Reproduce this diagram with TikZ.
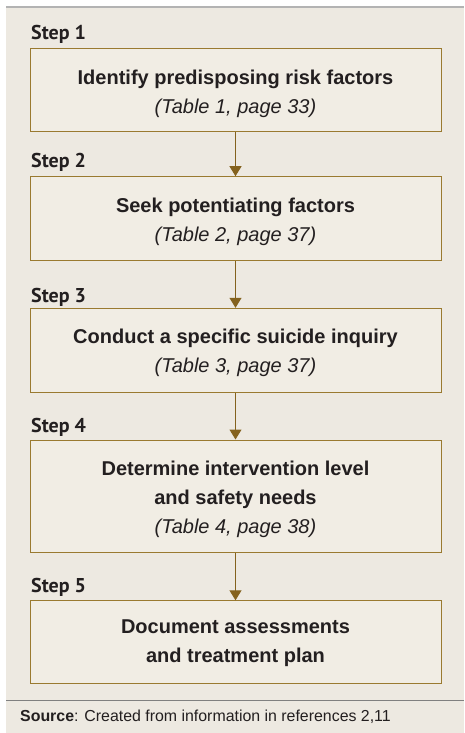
\documentclass[tikz,border=0pt]{standalone}
\usepackage{fontspec}
\setmainfont{Liberation Sans}
\newfontfamily\stepfont{PT Sans}
\usetikzlibrary{arrows.meta}
\definecolor{panelbg}{HTML}{EDE9E1}
\definecolor{boxbg}{HTML}{F1EDE4}
\definecolor{gold}{HTML}{9A7A30}
\definecolor{arrowc}{HTML}{84621E}
\definecolor{txt}{HTML}{231F20}
\definecolor{topline}{HTML}{B3B3B3}
\definecolor{botline}{HTML}{808080}
\tikzset{
  stepbox/.style={draw=gold, line width=1pt, fill=boxbg, minimum width=411pt, inner sep=0pt},
  boxtext/.style={align=center, inner sep=0pt, text=txt, font=\fontsize{20}{29}\selectfont, yshift=-3pt},
  steplabel/.style={anchor=west, inner sep=0pt, text=txt, font=\stepfont\bfseries\fontsize{20}{22}\selectfont},
  flow/.style={draw=arrowc, line width=1pt, -{Triangle[width=12pt,length=10pt]}}
}
\begin{document}
\begin{tikzpicture}[x=1pt,y=-1pt]
\useasboundingbox (0,0) rectangle (464,733);
\fill[white] (0,0) rectangle (464,733);
\fill[panelbg] (6,7) rectangle (464,733);
\draw[topline, line width=2pt] (6,7) -- (464,7);
\draw[botline, line width=1.2pt] (6,700.7) -- (464,700.7);

\node[steplabel] (l1) at (31,34) {Step 1};
\node[stepbox, minimum height=83pt, label={[boxtext]center:{\textbf{Identify predisposing risk factors}\\\textit{(Table 1, page 33)}}}] (b1) at (235.5,90.5) {};

\node[steplabel] (l2) at (31,162) {Step 2};
\node[stepbox, minimum height=84pt, label={[boxtext]center:{\textbf{Seek potentiating factors}\\\textit{(Table 2, page 37)}}}] (b2) at (235.5,218.7) {};

\node[steplabel] (l3) at (31,297) {Step 3};
\node[stepbox, minimum height=84pt, label={[boxtext]center:{\textbf{Conduct a specific suicide inquiry}\\\textit{(Table 3, page 37)}}}] (b3) at (235.5,350.3) {};

\node[steplabel] (l4) at (31,427) {Step 4};
\node[stepbox, minimum height=112pt, label={[boxtext]center:{\textbf{Determine intervention level}\\\textbf{and safety needs}\\\textit{(Table 4, page 38)}}}] (b4) at (235.5,496) {};

\node[steplabel] (l5) at (31,587) {Step 5};
\node[stepbox, minimum height=83pt, label={[boxtext, yshift=2pt]center:{\textbf{Document assessments}\\\textbf{and treatment plan}}}] (b5) at (235.5,642.3) {};

\draw[flow] (b1.south) -- (b2.north);
\draw[flow] (b2.south) -- (b3.north);
\draw[flow] (b3.south) -- (b4.north);
\draw[flow] (b4.south) -- (b5.north);

\node[anchor=west, inner sep=0pt, text=txt, font=\fontsize{15.9}{18}\selectfont] (src) at (20,717) {\textbf{Source}: Created from information in references 2,11};
\end{tikzpicture}
\end{document}
